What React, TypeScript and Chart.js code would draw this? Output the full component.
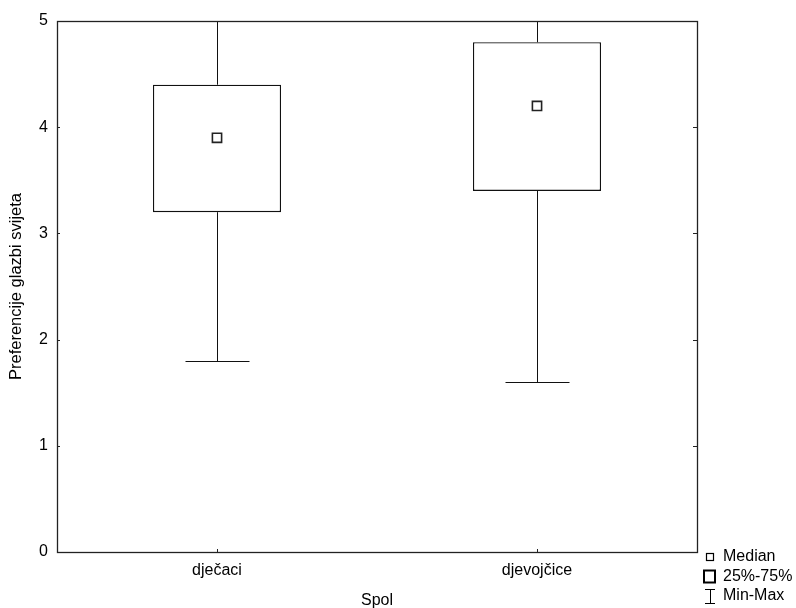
import React, { useEffect, useRef } from "react";
import { Chart, registerables } from "chart.js";

Chart.register(...registerables);

const categories = ["dječaci", "djevojčice"];
const minValues = [1.8, 1.6];
const q1Values = [3.2, 3.4];
const medianValues = [3.9, 4.2];
const q3Values = [4.4, 4.8];
const maxValues = [5, 5];
const yTicks = [0, 1, 2, 3, 4, 5];
const legendLabels = ["Median", "25%-75%", "Min-Max"];
const xTitle = "Spol";
const yTitle = "Preferencije glazbi svijeta";

const FONT = "'Liberation Sans', Arial, sans-serif";

const boxPlugin = {
  id: "boxExtras",
  beforeDatasetsDraw(chart: any) {
    const { ctx, scales } = chart;
    const x = scales.x;
    const y = scales.y;
    ctx.save();
    ctx.strokeStyle = "#111";
    ctx.lineWidth = 1;
    categories.forEach((_, i) => {
      const cx = Math.round(x.getPixelForValue(i)) + 0.5;
      const half = (x.getPixelForValue(1) - x.getPixelForValue(0)) * 0.1;
      const yMax = Math.round(y.getPixelForValue(maxValues[i])) + 0.5;
      const yMin = Math.round(y.getPixelForValue(minValues[i])) + 0.5;
      const yQ1 = y.getPixelForValue(q1Values[i]);
      const yQ3 = y.getPixelForValue(q3Values[i]);
      ctx.beginPath();
      ctx.moveTo(cx, yQ3);
      ctx.lineTo(cx, yMax);
      ctx.moveTo(cx - half, yMax);
      ctx.lineTo(cx + half, yMax);
      ctx.moveTo(cx, yQ1);
      ctx.lineTo(cx, yMin);
      ctx.moveTo(cx - half, yMin);
      ctx.lineTo(cx + half, yMin);
      ctx.stroke();
    });
    ctx.restore();
  },
  afterDraw(chart: any) {
    const { ctx, chartArea: a, scales } = chart;
    const x = scales.x;
    const y = scales.y;
    ctx.save();
    // frame
    ctx.strokeStyle = "#222";
    ctx.lineWidth = 1.3;
    ctx.strokeRect(Math.round(a.left) + 0.5, Math.round(a.top) + 0.5, Math.round(a.right - a.left), Math.round(a.bottom - a.top));
    // inward ticks
    ctx.lineWidth = 1;
    ctx.beginPath();
    yTicks.forEach((v) => {
      const py = Math.round(y.getPixelForValue(v)) + 0.5;
      ctx.moveTo(a.left, py);
      ctx.lineTo(a.left + 3, py);
      ctx.moveTo(a.right, py);
      ctx.lineTo(a.right - 4, py);
    });
    categories.forEach((_, i) => {
      const px = Math.round(x.getPixelForValue(i)) + 0.5;
      ctx.moveTo(px, a.bottom);
      ctx.lineTo(px, a.bottom - 3);
    });
    ctx.stroke();
    // legend
    const lx = a.right + 6;
    ctx.fillStyle = "#000";
    ctx.font = "16px " + FONT;
    ctx.textBaseline = "middle";
    ctx.textAlign = "left";
    const rows = [557, 576.5, 596];
    ctx.strokeStyle = "#000";
    // median symbol
    ctx.lineWidth = 1.2;
    ctx.strokeRect(lx + 3.5, rows[0] - 3.5, 7, 7);
    // box symbol
    ctx.lineWidth = 2;
    ctx.strokeRect(lx + 1, rows[1] - 6, 11, 12);
    // whisker symbol
    ctx.lineWidth = 1;
    ctx.beginPath();
    ctx.moveTo(lx + 2, rows[2] - 6.5);
    ctx.lineTo(lx + 12, rows[2] - 6.5);
    ctx.moveTo(lx + 7.5, rows[2] - 6.5);
    ctx.lineTo(lx + 7.5, rows[2] + 7.5);
    ctx.moveTo(lx + 2, rows[2] + 7.5);
    ctx.lineTo(lx + 12, rows[2] + 7.5);
    ctx.stroke();
    legendLabels.forEach((t, i) => {
      ctx.fillText(t, lx + 20, rows[i]);
    });
    ctx.restore();
  },
};

export default function App() {
  const ref = useRef<HTMLCanvasElement>(null);
  useEffect(() => {
    if (!ref.current) return;
    const chart = new Chart(ref.current, {
      type: "bar",
      data: {
        labels: categories,
        datasets: [
          {
            type: "bar",
            order: 2,
            data: categories.map((_, i) => [q1Values[i], q3Values[i]]) as any,
            backgroundColor: "#fff",
            borderColor: "#111",
            borderWidth: 1.3,
            borderSkipped: false,
            barPercentage: 0.4,
            categoryPercentage: 1,
          } as any,
          {
            type: "line",
            order: 1,
            data: medianValues,
            showLine: false,
            pointStyle: "rect",
            pointRadius: 6.5,
            pointBorderWidth: 1.6,
            pointBackgroundColor: "#fff",
            pointBorderColor: "#222",
          } as any,
        ],
      },
      options: {
        responsive: false,
        animation: false,
        events: [],
        layout: { padding: { top: 21, right: 99, left: 0, bottom: 0 } },
        plugins: { legend: { display: false }, tooltip: { enabled: false } },
        scales: {
          x: {
            offset: true,
            grid: { display: false },
            border: { display: false },
            ticks: { color: "#000", font: { size: 16, family: FONT }, padding: 1 },
            title: { display: true, text: xTitle, color: "#000", font: { size: 16, family: FONT }, padding: { top: 4, bottom: -2 } },
            afterFit(s: any) { s.height = 56; },
          } as any,
          y: {
            min: 0,
            max: 5,
            grid: { display: false },
            border: { display: false },
            ticks: { stepSize: 1, color: "#000", font: { size: 16, family: FONT }, padding: 1 },
            title: { display: true, text: yTitle, color: "#000", font: { size: 16.5, family: FONT }, padding: { top: 7, bottom: 0 } },
            afterFit(s: any) { s.width = 57; },
          } as any,
        },
      },
      plugins: [boxPlugin],
    });
    return () => chart.destroy();
  }, []);
  return (
    <div style={{ position: "fixed", left: 0, top: 0, width: 796, height: 608, background: "#fff" }}>
      <canvas ref={ref} width={796} height={608} style={{ display: "block" }} />
    </div>
  );
}
